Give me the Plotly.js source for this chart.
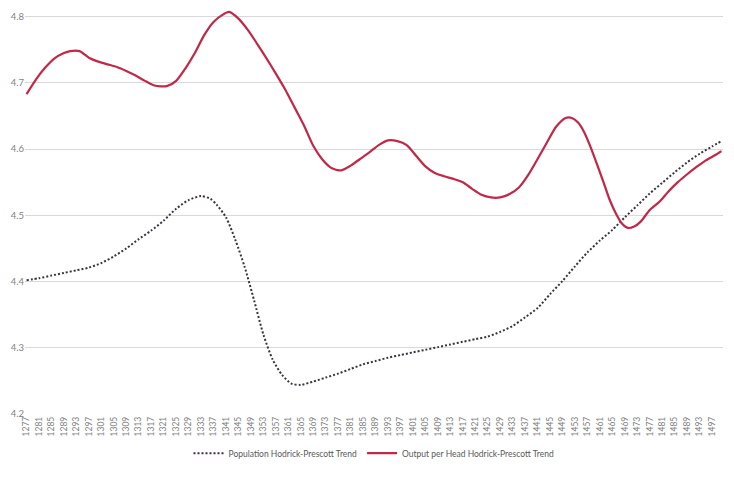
<!DOCTYPE html>
<html>
<head>
<meta charset="utf-8">
<script src="https://cdn.plot.ly/plotly-3.0.1.min.js"></script>
<style>
  body { margin: 0; background: #fff; }
  #chart { width: 734px; height: 478px; outline: 1px solid #d9d9d9; outline-offset: -1px; }
</style>
</head>
<body>
<div id="chart"></div>
<script>
// Data
var pop_years = [1277, 1281, 1285, 1289, 1293, 1297, 1301, 1305, 1309, 1313, 1317, 1321, 1325, 1329,
  1333, 1336, 1338, 1341, 1344, 1347, 1350, 1353, 1356, 1359, 1362, 1365, 1369, 1373, 1377, 1381,
  1385, 1389, 1393, 1397, 1401, 1405, 1409, 1413, 1417, 1421, 1425, 1429, 1433, 1437, 1441, 1445,
  1449, 1453, 1457, 1461, 1465, 1469, 1473, 1477, 1481, 1485, 1489, 1493, 1497, 1500];
var pop_values = [4.402, 4.405, 4.409, 4.413, 4.417, 4.421, 4.428, 4.438, 4.450, 4.464, 4.477, 4.492,
  4.510, 4.523, 4.529, 4.525, 4.516, 4.497, 4.463, 4.422, 4.372, 4.320, 4.282, 4.259, 4.246, 4.244,
  4.249, 4.255, 4.261, 4.268, 4.275, 4.280, 4.285, 4.289, 4.293, 4.297, 4.301, 4.305, 4.309, 4.313,
  4.317, 4.324, 4.333, 4.346, 4.360, 4.381, 4.401, 4.423, 4.444, 4.462, 4.478, 4.497, 4.515, 4.533,
  4.549, 4.565, 4.580, 4.593, 4.604, 4.612];

var out_years = [1277, 1280, 1283, 1286, 1289, 1291, 1294, 1297, 1300, 1303, 1306, 1309, 1312, 1315,
  1318, 1322, 1325, 1328, 1331, 1334, 1337, 1340, 1342, 1345, 1348, 1351, 1354, 1357, 1360, 1363,
  1366, 1369, 1372, 1375, 1378, 1381, 1384, 1387, 1390, 1393, 1396, 1399, 1402, 1405, 1408, 1411,
  1414, 1417, 1420, 1423, 1426, 1429, 1432, 1435, 1438, 1441, 1444, 1447, 1450, 1452, 1454, 1456,
  1458, 1460, 1462, 1464, 1466, 1468, 1470, 1472, 1474, 1477, 1480, 1483, 1486, 1489, 1492, 1495,
  1498, 1500];
var out_values = [4.683, 4.705, 4.723, 4.737, 4.745, 4.748, 4.748, 4.738, 4.732, 4.728, 4.724, 4.718,
  4.711, 4.703, 4.696, 4.695, 4.703, 4.722, 4.745, 4.772, 4.792, 4.803, 4.807, 4.797, 4.780, 4.759,
  4.737, 4.714, 4.690, 4.663, 4.636, 4.605, 4.584, 4.571, 4.568, 4.575, 4.585, 4.595, 4.606, 4.613,
  4.612, 4.606, 4.590, 4.574, 4.564, 4.559, 4.555, 4.550, 4.540, 4.531, 4.527, 4.527, 4.532, 4.542,
  4.561, 4.585, 4.610, 4.634, 4.647, 4.647, 4.640, 4.625, 4.603, 4.578, 4.552, 4.525, 4.504, 4.488,
  4.481, 4.483, 4.490, 4.508, 4.520, 4.536, 4.550, 4.562, 4.573, 4.583, 4.591, 4.597];

var tick_years = [];
for (var t = 1277; t <= 1497; t += 4) {
  tick_years.push(t);
}
var value_ticks = [4.2, 4.3, 4.4, 4.5, 4.6, 4.7, 4.8];

var font_family = 'Lato, "Liberation Sans", sans-serif';
var legend_grey = '#595959';
var tick_grey = '#7f7f7f';

var trace_pop = {
  x: pop_years,
  y: pop_values,
  name: 'Population Hodrick-Prescott Trend',
  type: 'scatter',
  mode: 'lines',
  line: {color: '#3d3340', width: 2, dash: '2px,2px', shape: 'spline', smoothing: 0.7},
};

var trace_out = {
  x: out_years,
  y: out_values,
  name: 'Output per Head Hodrick-Prescott Trend',
  type: 'scatter',
  mode: 'lines',
  line: {color: '#c0294a', width: 2.25, shape: 'spline', smoothing: 0.7},
};

// range goes a hair past 4.8 so the 1342 peak is not clipped
var layout = {
  width: 734,
  height: 478,
  margin: {l: 25, r: 11, t: 10, b: 54},
  paper_bgcolor: 'white',
  plot_bgcolor: 'white',
  font: {family: font_family, color: tick_grey, size: 9},
  showlegend: true,
  legend: {
    orientation: 'h',
    x: 0.5,
    xanchor: 'center',
    y: -0.097,
    yanchor: 'middle',
    font: {size: 8.5, color: legend_grey},
    itemwidth: 30,
  },
  xaxis: {
    range: [1276.5, 1500.5],
    tickmode: 'array',
    tickvals: tick_years,
    ticktext: tick_years.map(String),
    tickangle: -90,
    tickfont: {size: 8.5, color: tick_grey},
    showgrid: false,
    zeroline: false,
    showline: false,
    ticks: '',
  },
  yaxis: {
    range: [4.2, 4.81],
    tickmode: 'array',
    tickvals: value_ticks,
    ticktext: value_ticks.map(function(v) { return v.toFixed(1); }),
    tickfont: {size: 9.5, color: tick_grey},
    gridcolor: '#d9d9d9',
    gridwidth: 1,
    zeroline: false,
    showline: false,
    ticks: '',
  },
};

var config = {displayModeBar: false, staticPlot: true};

Plotly.newPlot('chart', [trace_pop, trace_out], layout, config);
</script>
</body>
</html>
